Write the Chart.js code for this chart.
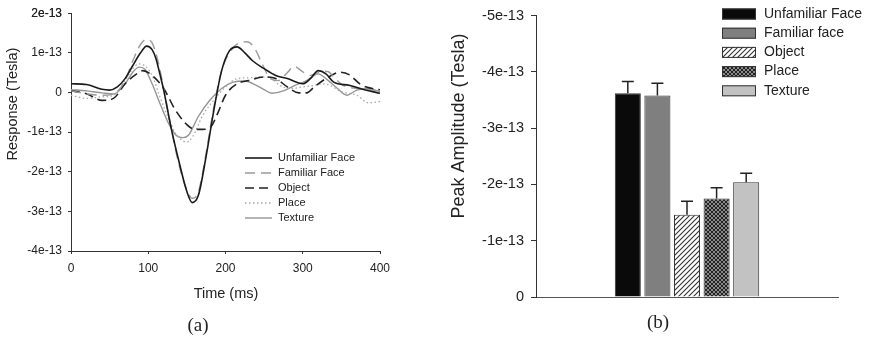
<!DOCTYPE html>
<html>
<head>
<meta charset="utf-8">
<script src="https://cdn.jsdelivr.net/npm/chart.js@4"></script>
<style>
  html, body { margin: 0; padding: 0; background: #fff; }
  #wrap { position: relative; width: 873px; height: 342px; }
  #lineChart { position: absolute; left: 0; top: 0; }
  #barChart { position: absolute; left: 420px; top: 0; }
</style>
</head>
<body>
<div id="wrap">
  <canvas id="lineChart" width="420" height="342"></canvas>
  <canvas id="barChart" width="453" height="342"></canvas>
</div>
<script>
const E13 = 1e-13;
const SANS = '"Liberation Sans", Arial, sans-serif';
const SERIF = '"Liberation Serif", "DejaVu Serif", serif';

// (a) response time courses, values in units of 1e-13 T
const unfamiliarT = [0, 20, 40, 50, 60, 70, 80, 90, 98, 105, 110, 115, 120, 125, 130, 140, 150, 157, 165, 175, 185, 195, 205, 215, 225, 235, 250, 265, 280, 300, 310, 320, 330, 340, 360, 380, 400];
const unfamiliarV = [0.22, 0.2, 0.08, 0.06, 0.14, 0.35, 0.68, 1.0, 1.17, 1.08, 0.85, 0.47, 0.06, -0.44, -0.93, -1.76, -2.5, -2.78, -2.59, -1.6, -0.44, 0.55, 1.05, 1.15, 1.0, 0.8, 0.6, 0.43, 0.35, 0.22, 0.35, 0.55, 0.47, 0.26, 0.18, 0.07, -0.02];

const familiarT = [0, 20, 40, 55, 70, 80, 90, 98, 105, 112, 120, 130, 140, 150, 157, 165, 175, 185, 195, 210, 228, 238, 248, 258, 268, 280, 289, 300, 310, 320, 332, 342, 352, 370, 400];
const familiarV = [0.04, -0.03, -0.07, -0.04, 0.3, 0.8, 1.21, 1.34, 1.25, 0.84, 0.1, -0.93, -1.84, -2.46, -2.67, -2.5, -1.52, -0.36, 0.55, 1.13, 1.28, 1.1, 0.7, 0.35, 0.3, 0.5, 0.66, 0.52, 0.43, 0.5, 0.53, 0.35, 0.18, 0.1, 0.04];

const objectT = [0, 20, 40, 55, 70, 85, 93, 105, 120, 135, 150, 160, 170, 180, 190, 200, 215, 230, 250, 265, 280, 295, 305, 315, 330, 348, 360, 375, 390, 400];
const objectV = [0.04, -0.03, -0.2, -0.15, 0.22, 0.47, 0.55, 0.43, 0.1, -0.44, -0.81, -0.93, -0.93, -0.89, -0.52, -0.07, 0.22, 0.3, 0.39, 0.35, 0.14, -0.01, -0.01, 0.14, 0.35, 0.51, 0.45, 0.2, 0.1, 0.07];

const placeT = [0, 20, 40, 55, 70, 80, 88, 95, 105, 115, 125, 135, 145, 150, 158, 170, 185, 200, 215, 230, 250, 260, 270, 285, 300, 315, 325, 335, 350, 370, 385, 400];
const placeV = [-0.07, -0.15, -0.11, -0.07, 0.3, 0.6, 0.72, 0.68, 0.43, -0.11, -0.6, -1.02, -1.22, -1.25, -1.1, -0.6, -0.19, 0.14, 0.35, 0.37, 0.39, 0.35, 0.18, 0.1, 0.14, 0.18, 0.22, 0.18, 0.02, -0.07, -0.26, -0.23];

const textureT = [0, 20, 40, 55, 70, 80, 88, 95, 105, 115, 125, 135, 145, 152, 165, 180, 195, 210, 225, 240, 250, 260, 275, 290, 305, 320, 330, 345, 357, 370, 385, 400];
const textureV = [0.07, 0.04, -0.01, -0.04, 0.22, 0.51, 0.64, 0.6, 0.22, -0.27, -0.73, -1.06, -1.14, -1.08, -0.6, -0.19, 0.1, 0.26, 0.29, 0.18, 0.07, -0.02, 0.04, 0.18, 0.3, 0.47, 0.35, 0.1, -0.07, 0.06, 0.1, 0.02];

// (b) peak amplitudes, units of 1e-13 T
const conditions = ['Unfamiliar Face', 'Familiar face', 'Object', 'Place', 'Texture'];
const peakMean = [-3.62, -3.58, -1.46, -1.75, -2.04];
const peakErr = [0.21, 0.22, 0.24, 0.19, 0.16];

function toPoints(ts, vs) {
  return ts.map((t, i) => ({ x: t, y: vs[i] * E13 }));
}

function expLabel(v) {
  const n = Math.round(v / E13);
  return n === 0 ? '0' : n + 'e-13';
}

function makeHatch() {
  const c = document.createElement('canvas');
  c.width = 5; c.height = 5;
  const g = c.getContext('2d');
  g.fillStyle = '#fff';
  g.fillRect(0, 0, 5, 5);
  g.strokeStyle = '#333';
  g.lineWidth = 1.1;
  g.beginPath();
  g.moveTo(-1, 6); g.lineTo(6, -1);
  g.moveTo(-1, 1); g.lineTo(1, -1);
  g.moveTo(4, 6); g.lineTo(6, 4);
  g.stroke();
  return g.createPattern(c, 'repeat');
}

function makeCross() {
  const c = document.createElement('canvas');
  c.width = 4; c.height = 4;
  const g = c.getContext('2d');
  g.fillStyle = '#8a8a8a';
  g.fillRect(0, 0, 4, 4);
  g.strokeStyle = '#222';
  g.lineWidth = 1;
  g.beginPath();
  g.moveTo(0, 0); g.lineTo(4, 4);
  g.moveTo(4, 0); g.lineTo(0, 4);
  g.stroke();
  return g.createPattern(c, 'repeat');
}

function drawText(ctx, text, x, y, font, rot) {
  ctx.save();
  ctx.translate(x, y);
  if (rot) ctx.rotate(rot);
  ctx.font = font;
  ctx.fillStyle = '#222';
  ctx.textAlign = 'center';
  ctx.textBaseline = 'middle';
  ctx.fillText(text, 0, 0);
  ctx.restore();
}

const lineExtras = {
  id: 'lineExtras',
  afterDraw(chart) {
    const ctx = chart.ctx;
    drawText(ctx, 'Response (Tesla)', 13, 104, '14.5px ' + SANS, -Math.PI / 2);
    drawText(ctx, 'Time (ms)', 226, 294, '14.5px ' + SANS);
    drawText(ctx, '(a)', 198, 326, '19px ' + SERIF);
    // legend inside plot
    ctx.save();
    ctx.font = '11px ' + SANS;
    ctx.textBaseline = 'middle';
    chart.data.datasets.forEach((ds, i) => {
      const y = 158 + i * 15;
      ctx.strokeStyle = ds.borderColor;
      ctx.lineWidth = ds.borderWidth;
      ctx.setLineDash(ds.borderDash || []);
      ctx.beginPath();
      ctx.moveTo(245, y);
      ctx.lineTo(272, y);
      ctx.stroke();
      ctx.setLineDash([]);
      ctx.fillStyle = '#222';
      ctx.fillText(ds.label, 278, y);
    });
    ctx.restore();
  }
};

new Chart(document.getElementById('lineChart'), {
  type: 'line',
  data: {
    datasets: [
      { label: 'Unfamiliar Face', data: toPoints(unfamiliarT, unfamiliarV), borderColor: '#1a1a1a', borderWidth: 1.6, borderDash: [] },
      { label: 'Familiar Face', data: toPoints(familiarT, familiarV), borderColor: '#9a9a9a', borderWidth: 1.4, borderDash: [10, 6] },
      { label: 'Object', data: toPoints(objectT, objectV), borderColor: '#222', borderWidth: 1.6, borderDash: [9, 5] },
      { label: 'Place', data: toPoints(placeT, placeV), borderColor: '#a8a8a8', borderWidth: 1.3, borderDash: [1.5, 2.5] },
      { label: 'Texture', data: toPoints(textureT, textureV), borderColor: '#959595', borderWidth: 1.4, borderDash: [] }
    ]
  },
  options: {
    responsive: false,
    animation: false,
    parsing: false,
    cubicInterpolationMode: 'monotone',
    elements: { point: { radius: 0 }, line: { cubicInterpolationMode: 'monotone' } },
    layout: { padding: { left: 0, right: 40, top: 8, bottom: 0 } },
    plugins: { legend: { display: false }, tooltip: { enabled: false } },
    scales: {
      x: {
        type: 'linear',
        min: 0, max: 400,
        ticks: { stepSize: 100, padding: 7, color: '#222', font: { family: SANS, size: 12 }, maxRotation: 0 },
        grid: { drawOnChartArea: false, tickLength: 3, color: '#333' },
        border: { color: '#333', width: 1 },
        afterFit: s => { s.height = 91; }
      },
      y: {
        min: -4 * E13, max: 2 * E13,
        ticks: { stepSize: E13, padding: 6, color: '#222', font: { family: SANS, size: 12 }, callback: v => expLabel(v) },
        grid: { drawOnChartArea: false, tickLength: 3, color: '#333' },
        border: { color: '#333', width: 1 },
        afterFit: s => { s.width = 71; }
      }
    }
  },
  plugins: [lineExtras]
});

const barFills = ['#0a0a0a', '#7f7f7f', makeHatch(), makeCross(), '#c2c2c2'];

const barExtras = {
  id: 'barExtras',
  afterDatasetsDraw(chart) {
    const ctx = chart.ctx;
    const ys = chart.scales.y;
    ctx.save();
    ctx.strokeStyle = '#222';
    ctx.lineWidth = 1.5;
    chart.data.datasets.forEach((ds, i) => {
      const bar = chart.getDatasetMeta(i).data[0];
      const top = ys.getPixelForValue((peakMean[i] - peakErr[i]) * E13);
      ctx.beginPath();
      ctx.moveTo(bar.x, bar.y);
      ctx.lineTo(bar.x, top);
      ctx.moveTo(bar.x - 6, top);
      ctx.lineTo(bar.x + 6, top);
      ctx.stroke();
    });
    ctx.restore();
  },
  afterDraw(chart) {
    const ctx = chart.ctx;
    drawText(ctx, 'Peak Amplitude (Tesla)', 39, 126, '18px ' + SANS, -Math.PI / 2);
    drawText(ctx, '(b)', 238, 323, '19px ' + SERIF);
    ctx.save();
    ctx.font = '14px ' + SANS;
    ctx.textBaseline = 'middle';
    chart.data.datasets.forEach((ds, i) => {
      const y = 14 + i * 19.2;
      ctx.fillStyle = ds.backgroundColor;
      ctx.fillRect(302, y - 5.5, 34, 11);
      ctx.strokeStyle = '#333';
      ctx.lineWidth = 1;
      ctx.strokeRect(302.5, y - 5, 33, 10);
      ctx.fillStyle = '#222';
      ctx.fillText(ds.label, 344, y);
    });
    ctx.restore();
  }
};

new Chart(document.getElementById('barChart'), {
  type: 'bar',
  data: {
    labels: [''],
    datasets: conditions.map((name, i) => ({
      label: name,
      data: [peakMean[i] * E13],
      backgroundColor: barFills[i],
      borderColor: '#333',
      borderWidth: 1,
      barPercentage: 0.88,
      categoryPercentage: 0.49
    }))
  },
  options: {
    responsive: false,
    animation: false,
    layout: { padding: { left: 0, right: 35, top: 11, bottom: 0 } },
    plugins: { legend: { display: false }, tooltip: { enabled: false } },
    scales: {
      x: {
        ticks: { display: false },
        grid: { display: false },
        border: { color: '#555', width: 1 },
        afterFit: s => { s.height = 45; }
      },
      y: {
        reverse: true,
        min: -5 * E13, max: 0,
        ticks: { stepSize: E13, padding: 7, color: '#222', font: { family: SANS, size: 14.5 }, callback: v => expLabel(v) },
        grid: { drawOnChartArea: false, tickLength: 5, color: '#333' },
        border: { color: '#333', width: 1 },
        afterFit: s => { s.width = 116; }
      }
    }
  },
  plugins: [barExtras]
});
</script>
</body>
</html>
